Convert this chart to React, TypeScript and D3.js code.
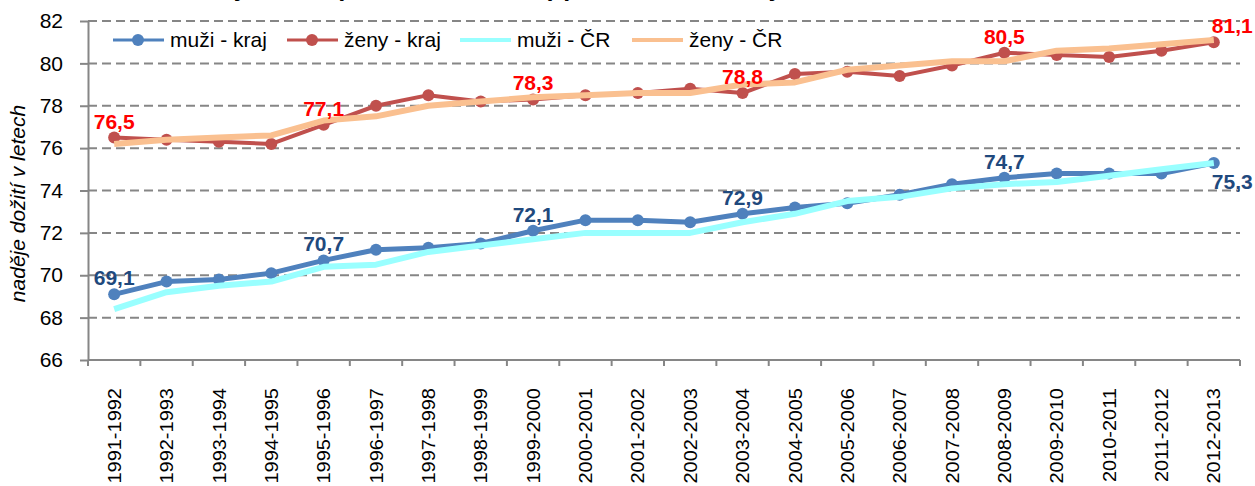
import React, { useEffect, useRef } from 'react';
import * as d3 from 'd3';

const titleText = 'Graf 1 Naděje dožití (základní ukazatel) při narození v kraji a v ČR';
const yTitle = 'naděje dožití v letech';

const categories = [
  '1991-1992', '1992-1993', '1993-1994', '1994-1995', '1995-1996', '1996-1997',
  '1997-1998', '1998-1999', '1999-2000', '2000-2001', '2001-2002', '2002-2003',
  '2003-2004', '2004-2005', '2005-2006', '2006-2007', '2007-2008', '2008-2009',
  '2009-2010', '2010-2011', '2011-2012', '2012-2013',
];

const muziKraj = [69.1, 69.7, 69.8, 70.1, 70.7, 71.2, 71.3, 71.5, 72.1, 72.6, 72.6, 72.5, 72.9, 73.2, 73.4, 73.8, 74.3, 74.6, 74.8, 74.8, 74.8, 75.3];
const zenyKraj = [76.5, 76.4, 76.3, 76.2, 77.1, 78.0, 78.5, 78.2, 78.3, 78.5, 78.6, 78.8, 78.6, 79.5, 79.6, 79.4, 79.9, 80.5, 80.4, 80.3, 80.6, 81.0];
const muziCR = [68.4, 69.2, 69.5, 69.7, 70.4, 70.5, 71.1, 71.4, 71.7, 72.0, 72.0, 72.0, 72.5, 72.9, 73.5, 73.7, 74.1, 74.3, 74.4, 74.7, 75.0, 75.3];
const zenyCR = [76.2, 76.4, 76.5, 76.6, 77.3, 77.5, 78.0, 78.2, 78.4, 78.5, 78.6, 78.6, 79.0, 79.1, 79.7, 79.9, 80.1, 80.1, 80.6, 80.7, 80.9, 81.1];

const yTicks = [66, 68, 70, 72, 74, 76, 78, 80, 82];

// printed data labels (which points carry them, and what they say)
const labelIdx = [0, 4, 8, 12, 17, 21];
const muziLabels = ['69,1', '70,7', '72,1', '72,9', '74,7', '75,3'];
const zenyLabels = ['76,5', '77,1', '78,3', '78,8', '80,5', '81,1'];

const legendNames = ['muži - kraj', 'ženy - kraj', 'muži - ČR', 'ženy - ČR'];

const App = () => {
  const svgRef = useRef(null);

  useEffect(() => {
    drawChart();
  }, []);

  const drawChart = () => {
    const svg = d3.select(svgRef.current);
    svg.selectAll('*').remove();

    const width = 1255;
    const height = 486;
    const margin = { top: 21, right: 15, bottom: 126, left: 88 };
    const font = '"Liberation Sans", Arial, sans-serif';
    const grey = '#868686';

    const x = d3.scaleBand()
      .domain(categories)
      .range([margin.left, width - margin.right])
      .padding(0);
    const bw = x.bandwidth();
    const cx = (i) => x(categories[i]) + bw / 2;

    const y = d3.scaleLinear()
      .domain([66, 82])
      .range([height - margin.bottom, margin.top]);

    // title (cut off at the top of the picture, as in the source)
    svg.append('text')
      .attr('x', 482)
      .attr('y', -4)
      .attr('text-anchor', 'middle')
      .attr('font-family', font)
      .attr('font-weight', 'bold')
      .attr('font-size', 25)
      .text(titleText);

    // dashed gridlines
    svg.append('g')
      .selectAll('line')
      .data(yTicks.filter(t => t > 66))
      .join('line')
      .attr('x1', margin.left)
      .attr('x2', width - margin.right)
      .attr('y1', d => y(d))
      .attr('y2', d => y(d))
      .attr('stroke', grey)
      .attr('stroke-width', 2)
      .attr('stroke-dasharray', '9,5');

    // y axis
    const yAxis = svg.append('g')
      .attr('transform', `translate(${margin.left},0)`)
      .call(d3.axisLeft(y).tickValues(yTicks).tickSize(8).tickSizeOuter(0).tickPadding(17).tickFormat(d3.format('d')));
    yAxis.select('.domain').attr('stroke', grey).attr('stroke-width', 2);
    yAxis.selectAll('.tick line').attr('stroke', grey).attr('stroke-width', 2);
    yAxis.selectAll('.tick text')
      .attr('font-family', font)
      .attr('font-size', 21)
      .attr('fill', '#000');

    svg.append('text')
      .attr('transform', `translate(25,${(margin.top + height - margin.bottom) / 2 + 13}) rotate(-90)`)
      .attr('text-anchor', 'middle')
      .attr('font-family', font)
      .attr('font-style', 'italic')
      .attr('font-size', 21)
      .text(yTitle);

    // x axis
    const xg = svg.append('g');
    const y0 = height - margin.bottom;
    xg.append('line')
      .attr('x1', margin.left)
      .attr('x2', width - margin.right)
      .attr('y1', y0)
      .attr('y2', y0)
      .attr('stroke', grey)
      .attr('stroke-width', 2);
    xg.selectAll('line.tick')
      .data(categories.concat(['end']))
      .join('line')
      .attr('class', 'tick')
      .attr('x1', (d, i) => (i < categories.length ? x(d) : width - margin.right))
      .attr('x2', (d, i) => (i < categories.length ? x(d) : width - margin.right))
      .attr('y1', y0)
      .attr('y2', y0 + 6)
      .attr('stroke', grey)
      .attr('stroke-width', 2);
    xg.selectAll('text')
      .data(categories)
      .join('text')
      .attr('transform', (d, i) => `translate(${cx(i)},${y0 + 28}) rotate(-90) scale(1,0.92)`)
      .attr('text-anchor', 'end')
      .attr('dy', '0.36em')
      .attr('font-family', font)
      .attr('font-size', 20)
      .text(d => d);

    const line = d3.line()
      .x((d, i) => cx(i))
      .y(d => y(d));

    const series = [
      { values: muziKraj, color: '#4F81BD', width: 5, marker: true },
      { values: zenyKraj, color: '#C0504D', width: 4, marker: true },
      { values: muziCR, color: '#99FFFF', width: 6, marker: false },
      { values: zenyCR, color: '#FAC090', width: 6, marker: false },
    ];

    series.forEach(s => {
      const g = svg.append('g');
      g.append('path')
        .datum(s.values)
        .attr('d', line)
        .attr('fill', 'none')
        .attr('stroke', s.color)
        .attr('stroke-width', s.width)
        .attr('stroke-linejoin', 'round');
      if (s.marker) {
        g.selectAll('circle')
          .data(s.values)
          .join('circle')
          .attr('cx', (d, i) => cx(i))
          .attr('cy', d => y(d))
          .attr('r', 6)
          .attr('fill', s.color);
      }
    });

    // data labels
    const last = categories.length - 1;
    const labelSets = [
      { values: muziKraj, texts: muziLabels, color: '#1F497D', lastBelow: true },
      { values: zenyKraj, texts: zenyLabels, color: '#FF0000', lastBelow: false },
    ];
    labelSets.forEach(ls => {
      svg.append('g')
        .selectAll('text')
        .data(labelIdx)
        .join('text')
        .attr('x', i => (i === last ? cx(i) - 2 : cx(i)))
        .attr('y', i => (i === last && ls.lastBelow ? y(ls.values[i]) + 26 : y(ls.values[i]) - 9))
        .attr('text-anchor', i => (i === last ? 'start' : 'middle'))
        .attr('font-family', font)
        .attr('font-weight', 'bold')
        .attr('font-size', 21)
        .attr('fill', ls.color)
        .text((i, k) => ls.texts[k]);
    });

    // legend
    const legendX = [113, 287, 460, 632];
    const legendY = 40;
    const legend = svg.append('g');
    legendNames.forEach((name, k) => {
      const s = series[k];
      const lx = legendX[k];
      legend.append('line')
        .attr('x1', lx)
        .attr('x2', lx + 51)
        .attr('y1', legendY)
        .attr('y2', legendY)
        .attr('stroke', s.color)
        .attr('stroke-width', s.marker ? 3 : 4);
      if (s.marker) {
        legend.append('circle')
          .attr('cx', lx + 25)
          .attr('cy', legendY)
          .attr('r', 6)
          .attr('fill', s.color);
      }
      legend.append('text')
        .attr('x', lx + 57)
        .attr('y', legendY)
        .attr('dy', '0.35em')
        .attr('font-family', font)
        .attr('font-size', 21)
        .text(name);
    });
  };

  return (
    <svg
      ref={svgRef}
      width={1255}
      height={486}
      style={{ position: 'absolute', left: 0, top: 0, background: '#fff' }}
    ></svg>
  );
};

export default App;
